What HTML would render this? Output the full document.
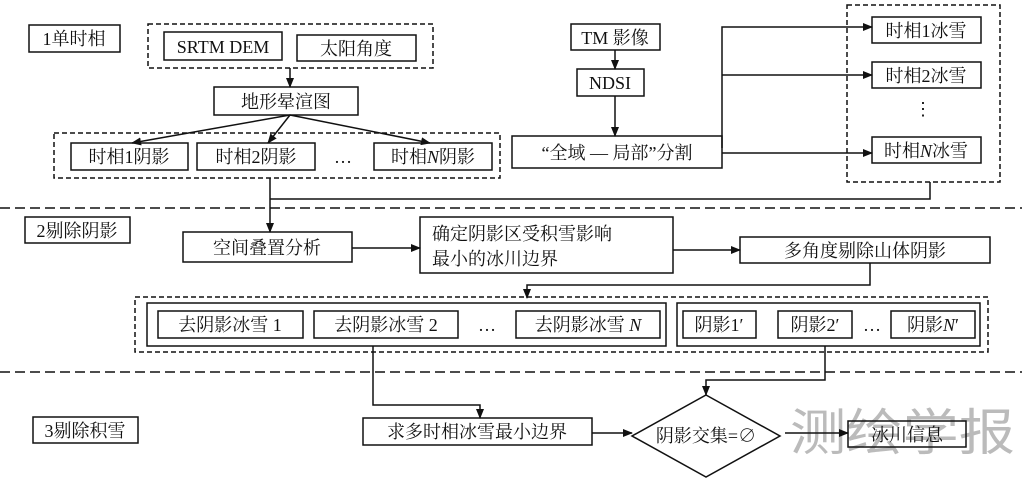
<!DOCTYPE html>
<html><head><meta charset="utf-8"><style>
html,body{margin:0;padding:0;background:#fff;}
svg text{font-family:"Liberation Serif","Noto Serif CJK SC",serif;font-size:18px;fill:#111;}
</style></head><body>
<svg width="1022" height="482" viewBox="0 0 1022 482" xmlns="http://www.w3.org/2000/svg">
<defs><marker id="a" markerWidth="10" markerHeight="8" refX="9" refY="4" orient="auto" markerUnits="userSpaceOnUse"><path d="M0,0 L10,4 L0,8 Z" fill="#111"/></marker></defs>
<text x="790" y="450" textLength="225" lengthAdjust="spacingAndGlyphs" style="font-family:'Noto Sans CJK SC',sans-serif;font-size:50px;fill:#bbb">测绘学报</text>
<g fill="none" stroke="#111" stroke-width="1.5">
<g stroke-dasharray="5,3">
<rect x="148" y="24" width="285" height="44"/>
<rect x="54" y="133" width="446" height="45"/>
<rect x="847" y="5" width="153" height="177"/>
<rect x="135" y="297" width="853" height="55"/>
<line x1="0" y1="208" x2="1022" y2="208" stroke-dasharray="10,5"/>
<line x1="0" y1="372" x2="1022" y2="372" stroke-dasharray="10,5"/>
</g>
<rect x="29" y="25" width="91" height="27"/>
<rect x="164" y="32" width="118" height="28"/>
<rect x="297" y="35" width="119" height="26"/>
<rect x="214" y="87" width="144" height="28"/>
<rect x="71" y="143" width="117" height="27"/>
<rect x="197" y="143" width="118" height="27"/>
<rect x="374" y="143" width="118" height="27"/>
<rect x="571" y="24" width="89" height="26"/>
<rect x="577" y="69" width="67" height="27"/>
<rect x="512" y="136" width="210" height="32"/>
<rect x="872" y="17" width="109" height="26"/>
<rect x="872" y="62" width="109" height="26"/>
<rect x="872" y="137" width="109" height="26"/>
<rect x="25" y="217" width="105" height="26"/>
<rect x="183" y="232" width="169" height="30"/>
<rect x="420" y="217" width="253" height="56"/>
<rect x="740" y="237" width="250" height="26"/>
<rect x="147" y="303" width="519" height="43"/>
<rect x="158" y="311" width="145" height="27"/>
<rect x="314" y="311" width="144" height="27"/>
<rect x="516" y="311" width="144" height="27"/>
<rect x="677" y="303" width="303" height="43"/>
<rect x="683" y="311" width="73" height="27"/>
<rect x="778" y="311" width="74" height="27"/>
<rect x="891" y="311" width="84" height="27"/>
<rect x="33" y="417" width="105" height="26"/>
<rect x="363" y="418" width="229" height="27"/>
<rect x="848" y="421" width="118" height="26"/>
<path d="M706,395 L780,436 L706,477 L632,436 Z"/>
<line x1="290" y1="68" x2="290" y2="87" marker-end="url(#a)"/>
<line x1="290" y1="115" x2="132" y2="143" marker-end="url(#a)"/>
<line x1="290" y1="115" x2="268" y2="143" marker-end="url(#a)"/>
<line x1="290" y1="115" x2="430" y2="143" marker-end="url(#a)"/>
<line x1="270" y1="178" x2="270" y2="232" marker-end="url(#a)"/>
<polyline points="270,199 930,199 930,182"/>
<line x1="615" y1="50" x2="615" y2="69" marker-end="url(#a)"/>
<line x1="615" y1="96" x2="615" y2="136" marker-end="url(#a)"/>
<polyline points="722,148 722,27 872,27" marker-end="url(#a)"/>
<line x1="722" y1="75" x2="872" y2="75" marker-end="url(#a)"/>
<line x1="722" y1="153" x2="872" y2="153" marker-end="url(#a)"/>
<line x1="352" y1="248" x2="420" y2="248" marker-end="url(#a)"/>
<line x1="673" y1="250" x2="740" y2="250" marker-end="url(#a)"/>
<polyline points="870,263 870,285 527,285 527,298" marker-end="url(#a)"/>
<polyline points="373,346 373,405 480,405 480,418" marker-end="url(#a)"/>
<polyline points="825,346 825,380 706,380 706,395" marker-end="url(#a)"/>
<line x1="592" y1="433" x2="632" y2="433" marker-end="url(#a)"/>
<line x1="785" y1="433" x2="848" y2="433" marker-end="url(#a)"/>
</g>
<g text-anchor="middle">
<text x="74" y="45">1单时相</text>
<text x="223" y="53">SRTM DEM</text>
<text x="356" y="55">太阳角度</text>
<text x="286" y="108">地形晕渲图</text>
<text x="129" y="163">时相1阴影</text>
<text x="256" y="163">时相2阴影</text>
<text x="343" y="163">…</text>
<text x="433" y="163">时相<tspan font-style="italic">N</tspan>阴影</text>
<text x="615" y="44">TM 影像</text>
<text x="610" y="89">NDSI</text>
<text x="617" y="159">“全域 — 局部”分割</text>
<text x="926" y="37">时相1冰雪</text>
<text x="926" y="82">时相2冰雪</text>
<text x="923" y="115">⋮</text>
<text x="926" y="157">时相<tspan font-style="italic">N</tspan>冰雪</text>
<text x="77" y="237">2剔除阴影</text>
<text x="267" y="254">空间叠置分析</text>
<text x="432" y="240" text-anchor="start">确定阴影区受积雪影响</text>
<text x="432" y="265" text-anchor="start">最小的冰川边界</text>
<text x="865" y="257">多角度剔除山体阴影</text>
<text x="230" y="331">去阴影冰雪 1</text>
<text x="386" y="331">去阴影冰雪 2</text>
<text x="487" y="331">…</text>
<text x="588" y="331">去阴影冰雪 <tspan font-style="italic">N</tspan></text>
<text x="719" y="331">阴影1′</text>
<text x="815" y="331">阴影2′</text>
<text x="872" y="331">…</text>
<text x="933" y="331">阴影<tspan font-style="italic">N</tspan>′</text>
<text x="85" y="437">3剔除积雪</text>
<text x="477" y="438">求多时相冰雪最小边界</text>
<text x="706" y="442">阴影交集=∅</text>
<text x="907" y="441">冰川信息</text>
</g>
</svg>
</body></html>
